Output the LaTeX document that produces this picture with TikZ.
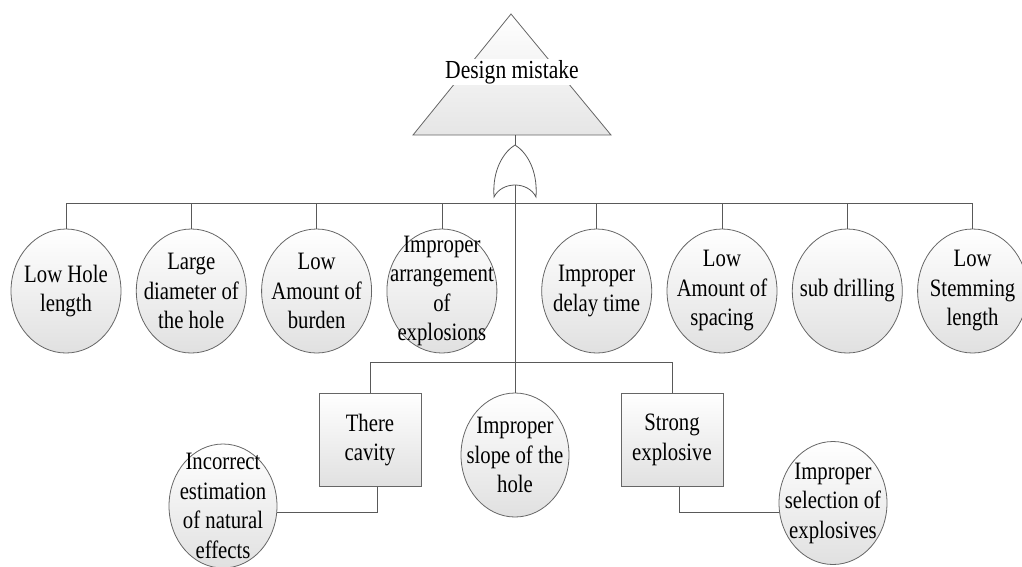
\documentclass[tikz,border=0pt]{standalone}
\usepackage{fontspec}
\setmainfont{Liberation Serif}
\newfontfamily\evfont[FakeStretch=0.83]{Liberation Serif}
\usetikzlibrary{shapes.geometric,positioning}

\begin{document}
\begin{tikzpicture}[x=1pt, y=-1pt, node distance = 14.5pt,
                    line width=0.8pt,
                    event/.style = {ellipse, draw=black!60, top color=white, bottom color=black!12,
                                    minimum width=110pt, minimum height=124pt, inner sep=-20pt,
                                    align=center, font=\evfont\fontsize{25}{29.5}\selectfont},
                    cond/.style = {rectangle, draw=black!60, top color=white, bottom color=black!12,
                                   minimum width=102pt, minimum height=93pt, inner sep=0pt, align=center,
                                   font=\evfont\fontsize{25}{29.5}\selectfont},
                    link/.style = {draw=black!65}]
\useasboundingbox (0,0) rectangle (1022,566);
\path[draw=black!60, top color=white, bottom color=black!10] (511,14) -- (611,135) -- (413,135) -- cycle;
\node[fill=white, inner sep=1pt, font=\evfont\fontsize{26}{29.5}\selectfont] (dm) at (512,72) {Design mistake};
\draw[draw=black!65, fill=white] (494,197) .. controls (492,168) and (505,151) .. (515,145)
   .. controls (525,151) and (538,168) .. (536,197) .. controls (528,181) and (502,181) .. (494,197) -- cycle;
\coordinate (tbase) at (515,135);
\coordinate (gin) at (515,145);
\coordinate (gout) at (515,185);
\coordinate (bus) at (515,203);
\coordinate (bus2) at (515,362);
\begin{scope}[node distance=0mm and 14.5pt]
    \node[event] (lhl) at (66,291) {Low Hole\\length};
\node[event, right= of lhl] (ldh) {Large\\diameter of\\the hole};
\node[event, right= of ldh] (lab) {Low\\Amount of\\burden};
\node[event, right= of lab] (iae) {Improper\\arrangement\\of\\explosions};
\node[event, right=0mm and 44pt of iae] (idt) {Improper\\delay time};
\node[event, right= of idt] (las) {Low\\Amount of\\spacing};
\node[event, right= of las] (sd) {sub drilling};
\node[event, right= of sd] (lsl) {Low\\Stemming\\length};
\node[cond] (cav) at (370,440) {There\\cavity};
\node[event, minimum width=108pt] (isl) at (515,455) {Improper\\slope of the\\hole};
\node[cond] (sex) at (672,440) {Strong\\explosive};
\node[event, minimum width=108pt] (ien) at (223,506) {Incorrect\\estimation\\of natural\\effects};
\node[event, minimum width=108pt, minimum height=123pt] (ise) at (833,503) {Improper\\selection of\\explosives};
    \path[link]
(tbase) edge (gin)
(gout) edge (isl.north);
    \draw[link]
(lhl.north) |- (bus)
(ldh.north) |- (bus)
(lab.north) |- (bus)
(iae.north) |- (bus)
(idt.north) |- (bus)
(las.north) |- (bus)
(sd.north) |- (bus)
(lsl.north) |- (bus)
(cav.north) |- (bus2)
(sex.north) |- (bus2)
([xshift=7pt]cav.south) |- (ien.-7)
([xshift=7pt]sex.south) |- (ise.190);\end{scope}  \end{tikzpicture}
\end{document}
